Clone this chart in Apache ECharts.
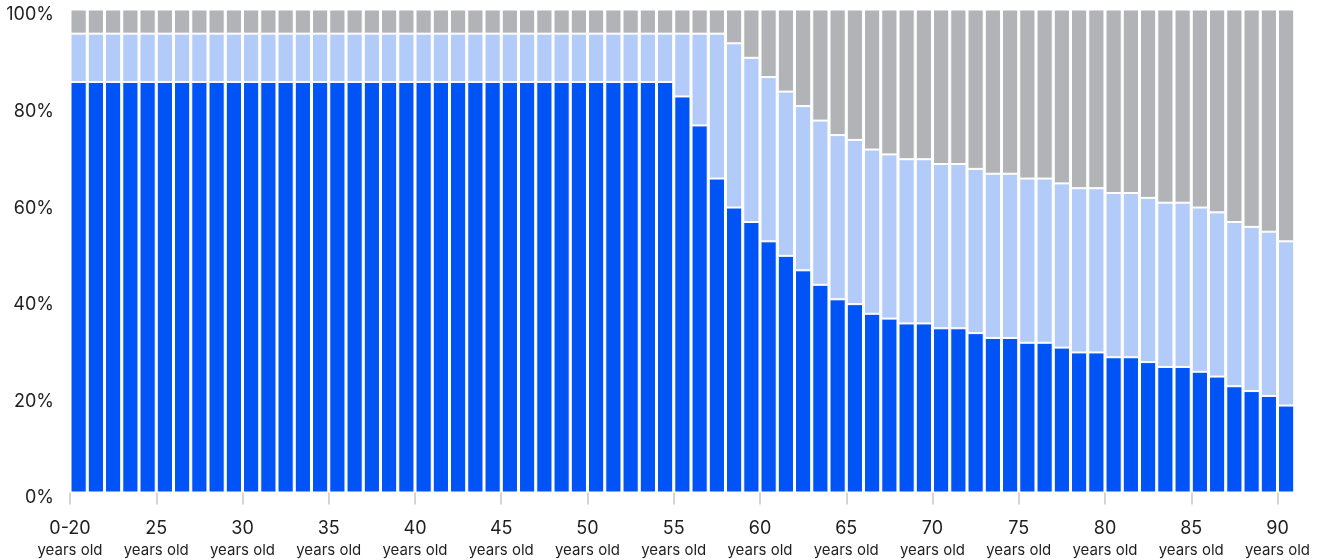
<!DOCTYPE html>
<html>
<head>
<meta charset="utf-8">
<script src="https://cdn.jsdelivr.net/npm/echarts@6/dist/echarts.min.js"></script>
<style>
  html, body { margin: 0; padding: 0; background: #fff; }
  #chart { width: 1320px; height: 560px; }
</style>
</head>
<body>
<div id="chart"></div>
<script>
// Ages: first bar is "0-20", then 21 ... 90
const ages = [20,21,22,23,24,25,26,27,28,29,30,31,32,33,34,35,36,37,38,39,40,41,42,43,44,45,46,47,48,49,50,51,52,53,54,55,56,57,58,59,60,61,62,63,64,65,66,67,68,69,70,71,72,73,74,75,76,77,78,79,80,81,82,83,84,85,86,87,88,89,90];

// Bottom segment (dark blue), %
const blueShare = [85,85,85,85,85,85,85,85,85,85,85,85,85,85,85,85,85,85,85,85,85,85,85,85,85,85,85,85,85,85,85,85,85,85,85,
  82,76,65,59,56,52,49,46,43,40,39,37,36,35,35,34,34,33,32,32,31,31,30,29,29,28,28,27,26,26,25,24,22,21,20,18];

// Middle segment (light blue), %
const lightShare = [10,10,10,10,10,10,10,10,10,10,10,10,10,10,10,10,10,10,10,10,10,10,10,10,10,10,10,10,10,10,10,10,10,10,10,
  13,19,30,34,34,34,34,34,34,34,34,34,34,34,34,34,34,34,34,34,34,34,34,34,34,34,34,34,34,34,34,34,34,34,34,34];

// Top segment (grey), %
const grayShare = [5,5,5,5,5,5,5,5,5,5,5,5,5,5,5,5,5,5,5,5,5,5,5,5,5,5,5,5,5,5,5,5,5,5,5,
  5,5,5,7,10,14,17,20,23,26,27,29,30,31,31,32,32,33,34,34,35,35,36,37,37,38,38,39,40,40,41,42,44,45,46,48];

// Tick positions (ages) and their labels
const tickAges = [20,25,30,35,40,45,50,55,60,65,70,75,80,85,90];
const tickLabels = ['0-20','25','30','35','40','45','50','55','60','65','70','75','80','85','90'];
const yTicks = [0,20,40,60,80,100];

const FONT = 'Inter, "Liberation Sans", sans-serif';
const TEXT = '#1f1f1f';

const chart = echarts.init(document.getElementById('chart'), null, { renderer: 'canvas' });

const barStyle = (c) => ({ color: c, borderColor: '#ffffff', borderWidth: 1 });

chart.setOption({
  animation: false,
  backgroundColor: '#ffffff',
  grid: { left: 70, right: 25.25, top: 9.5, bottom: 67.5, containLabel: false },
  xAxis: [
    {
      type: 'category',
      data: ages.map(String),
      show: false,
      boundaryGap: true
    },
    {
      type: 'value',
      position: 'bottom',
      min: ages[0],
      max: ages[ages.length - 1] + 1,
      interval: 5,
      splitLine: { show: false },
      axisLine: { show: false },
      axisTick: { show: true, length: 12, customValues: tickAges, lineStyle: { color: '#c8c8c8', width: 1.5 } },
      axisLabel: {
        customValues: tickAges,
        margin: 25,
        fontFamily: FONT,
        color: TEXT,
        formatter: (v) => {
          const i = tickAges.indexOf(v);
          return '{a|' + (i >= 0 ? tickLabels[i] : v) + '}\n{b|years old}';
        },
        rich: {
          a: { fontSize: 18, lineHeight: 22, fontFamily: FONT, color: TEXT },
          b: { fontSize: 15, lineHeight: 22, fontFamily: FONT, color: TEXT }
        }
      }
    }
  ],
  yAxis: {
    type: 'value',
    min: 0,
    max: 100,
    interval: 20,
    splitLine: { show: false },
    axisLine: { show: false },
    axisTick: { show: false },
    axisLabel: {
      customValues: yTicks,
      formatter: '{value}%',
      fontFamily: FONT,
      fontSize: 18,
      color: TEXT,
      margin: 16,
      verticalAlign: 'top',
      lineHeight: 11
    }
  },
  series: [
    { name: 'blue', type: 'bar', stack: 'a', xAxisIndex: 0, data: blueShare, barCategoryGap: '6%', itemStyle: barStyle('#0053f5') },
    { name: 'light', type: 'bar', stack: 'a', xAxisIndex: 0, data: lightShare, barCategoryGap: '6%', itemStyle: barStyle('#b3cbf9') },
    { name: 'gray', type: 'bar', stack: 'a', xAxisIndex: 0, data: grayShare, barCategoryGap: '6%', itemStyle: barStyle('#b2b3b6') }
  ]
});
</script>
</body>
</html>
